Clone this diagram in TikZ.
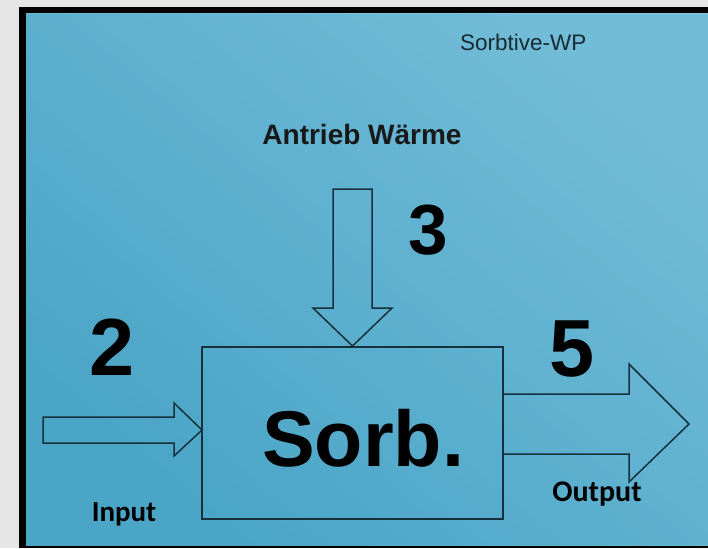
\documentclass[tikz,border=0pt]{standalone}
\usepackage{fontspec}
\setmainfont{Liberation Sans}
\newfontfamily\calfont{Carlito}
\definecolor{bggray}{HTML}{E6E6E6}
\definecolor{panellow}{HTML}{4AA5C7}
\definecolor{panelhigh}{HTML}{86C9E0}
\definecolor{linec}{HTML}{16303C}
\definecolor{txtc}{HTML}{1A2A33}
\tikzset{
  blockarrow/.style={draw=linec, line width=1.5pt, line join=miter},
  bignum/.style={font=\fontsize{81}{81}\selectfont\bfseries, text=black, inner sep=0pt, anchor=base},
  lbl/.style={font=\calfont\bfseries\fontsize{29}{29}\selectfont, text=black, inner sep=0pt, anchor=base}
}
\begin{document}
\begin{tikzpicture}[x=1pt,y=-1pt]
\useasboundingbox (0,0) rectangle (708,548);
\fill[bggray] (0,0) rectangle (708,548);
\fill[black] (19,7) rectangle (708,548);
\shade[shading=axis, bottom color=panellow, top color=panelhigh, shading angle=-40] (26,14) rectangle (708,545);
\fill[panellow, opacity=0.35] (26,14) rectangle (708,545);

% main box
\node[draw=linec, line width=1.5pt, minimum width=301pt, minimum height=172pt, inner sep=0pt] (box) at (352.5,433) {};
\node[font=\fontsize{79}{79}\selectfont\bfseries, text=black, inner sep=0pt, anchor=base] (sorb) at (363,466) {Sorb.};

% input arrow
\coordinate (intip) at (202,430);
\draw[blockarrow] (43,417) -- (174,417) -- (174,403) -- (intip) -- (174,456) -- (174,443) -- (43,443) -- cycle;

% heat arrow (down)
\coordinate (heattip) at (352.5,346);
\draw[blockarrow] (333,189) -- (372,189) -- (372,308) -- (392,308) -- (heattip) -- (313,308) -- (333,308) -- cycle;

% output arrow
\coordinate (outtip) at (689,424);
\draw[blockarrow] (box.east |- 0,394) -- (629,394) -- (629,364) -- (outtip) -- (629,482) -- (629,454) -- (box.east |- 0,454);

% texts
\node[font=\fontsize{22.5}{22.5}\selectfont, text=txtc, inner sep=0pt, anchor=base west] (title) at (460,51) {Sorbtive-WP};
\node[font=\fontsize{28}{28}\selectfont\bfseries, text=black!90, inner sep=0pt, anchor=base] (antrieb) at (362,145) {Antrieb Wärme};
\node[bignum, font=\fontsize{71}{71}\selectfont\bfseries] (n3) at (428.5,254) {3};
\node[bignum] (n2) at (112,375) {2};
\node[bignum] (n5) at (572.5,376) {5};
\node[lbl] (input) at (124,521) {Input};
\node[lbl, font=\calfont\bfseries\fontsize{30}{30}\selectfont] (output) at (597,501) {Output};
\end{tikzpicture}
\end{document}
